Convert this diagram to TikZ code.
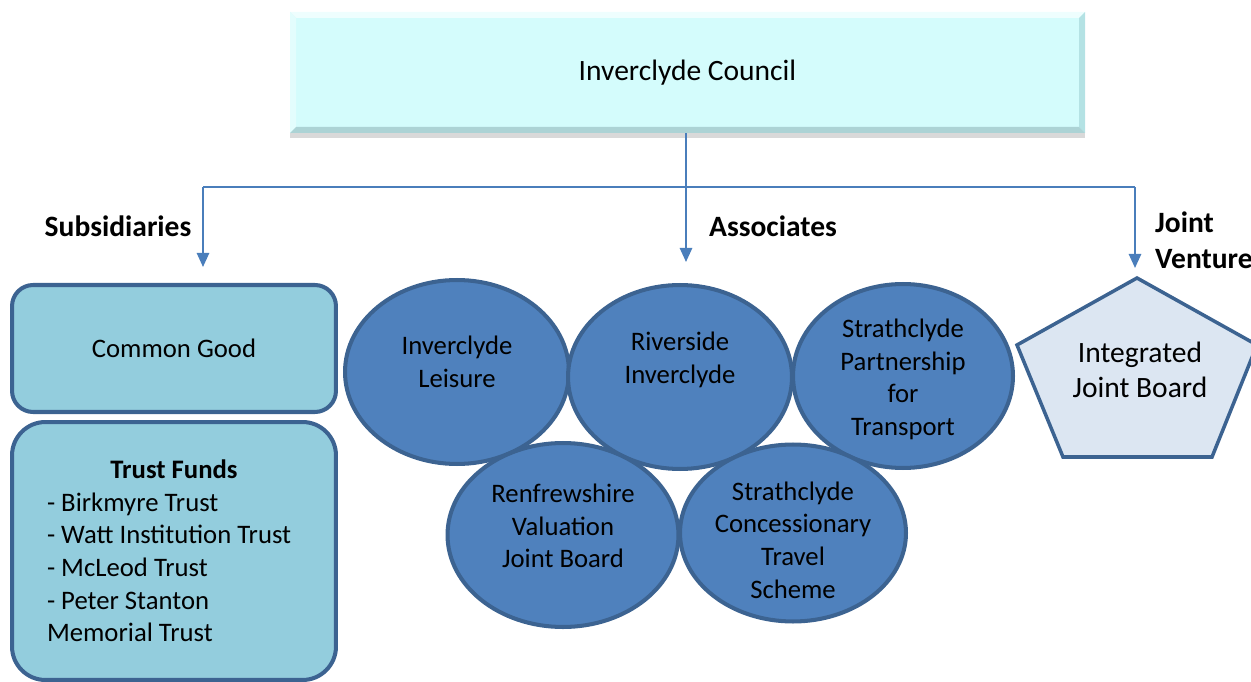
\documentclass[tikz,border=0pt]{standalone}
\usepackage{fontspec}
\setmainfont{Carlito}
\usetikzlibrary{shapes.geometric,arrows.meta,positioning,shadows}

\definecolor{councilfill}{HTML}{D4FCFC}
\definecolor{counciledge}{HTML}{B4E2E4}
\definecolor{linkblue}{HTML}{4A7EBB}
\definecolor{subfill}{HTML}{93CDDD}
\definecolor{edgeblue}{HTML}{3C6391}
\definecolor{assocfill}{HTML}{4F81BD}
\definecolor{ijbfill}{HTML}{DCE6F2}

\begin{document}
\begin{tikzpicture}[x=0.02cm,y=-0.02cm,
  font=\fontsize{15.2}{18.6}\selectfont,
  big/.style={font=\fontsize{16.8}{20}\selectfont},
  conn/.style={draw=linkblue, line width=1.1pt},
  tip/.style={conn, -{Triangle[width=7pt,length=8pt]}},
  subbox/.style={draw=edgeblue, line width=2.3pt, fill=subfill},
  assoc/.style={ellipse, draw=edgeblue, line width=2.3pt, fill=assocfill,
    minimum width=4.48cm, minimum height=3.68cm},
  head/.style={font=\fontsize{16.8}{20.5}\selectfont\bfseries}]
\useasboundingbox (0,0) rectangle (1251,682);

% council box with bevel
\node[fill=councilfill, minimum width=15.9cm, minimum height=2.42cm,
  drop shadow={shadow xshift=0pt, shadow yshift=-3pt, opacity=.3}] (council) at (687.5,72.5) {};
\fill[white!60!councilfill] (290,12) -- (1085,12) -- (1079,18) -- (296,18) -- cycle;
\fill[white!35!councilfill] (290,12) -- (296,18) -- (296,127) -- (290,133) -- cycle;
\fill[counciledge] (1085,12) -- (1085,133) -- (1079,127) -- (1079,18) -- cycle;
\fill[counciledge!85!gray] (290,133) -- (1085,133) -- (1079,127) -- (296,127) -- cycle;
\node[big] at (council.center) {Inverclyde Council};

% connectors
\coordinate (hl) at (203,187);
\coordinate (hr) at (1135,187);
\coordinate (subtip) at (203,267);
\coordinate (assoctip) at (686,262);
\coordinate (jvtip) at (1135,268);
\draw[conn] (hl) -- (hr);
\draw[tip] (council.south -| assoctip) -- (assoctip);
\draw[tip] (hl) -- (subtip);
\draw[tip] (hr) -- (jvtip);

\node[head] (sublbl) at (118,226) {Subsidiaries};
\node[head] (asslbl) at (773,226) {Associates};
\node[head, anchor=west, align=flush left] (jvlbl) at (1149,240) {Joint\\Venture};

% subsidiaries
\node[subbox, rounded corners=12pt, minimum width=6.48cm, minimum height=2.54cm] (common) at (174,348.5) {Common Good};
\node[subbox, rounded corners=19pt, minimum width=6.48cm, minimum height=5.16cm, text width=5.08cm, align=flush left] (trust) at (174,551)
  {\makebox[5.08cm]{\bfseries Trust Funds}\\- Birkmyre Trust\\- Watt Institution Trust\\- McLeod Trust\\- Peter Stanton\\Memorial Trust};

% associates
\node[assoc] (leisure) at (457,372) {};
\node[assoc] (riverside) at (680,377) {};
\node[assoc, minimum width=4.4cm] (spt) at (903,376) {};
\node[assoc, minimum width=4.62cm] (valuation) at (563,535) {};
\node[assoc, minimum width=4.52cm, minimum height=3.54cm] (travel) at (793,533) {};
\node[align=center] at (457,362) {Inverclyde\\Leisure};
\node[align=center] at (680,360) {Riverside\\Inverclyde};
\node[align=center] at (903,379.5) {Strathclyde\\Partnership\\for\\Transport};
\node[align=center] at (563,526) {Renfrewshire\\Valuation\\Joint Board};
\node[align=center] at (793,540) {Strathclyde\\Concessionary\\Travel\\Scheme};

% joint venture
\filldraw[fill=ijbfill, draw=edgeblue, line width=2pt] (1137,278) -- (1257,345) -- (1212,457) -- (1063,457) -- (1017,345) -- cycle;
\node[big, align=center] (ijb) at (1140,370) {Integrated\\Joint Board};

\end{tikzpicture}
\end{document}
